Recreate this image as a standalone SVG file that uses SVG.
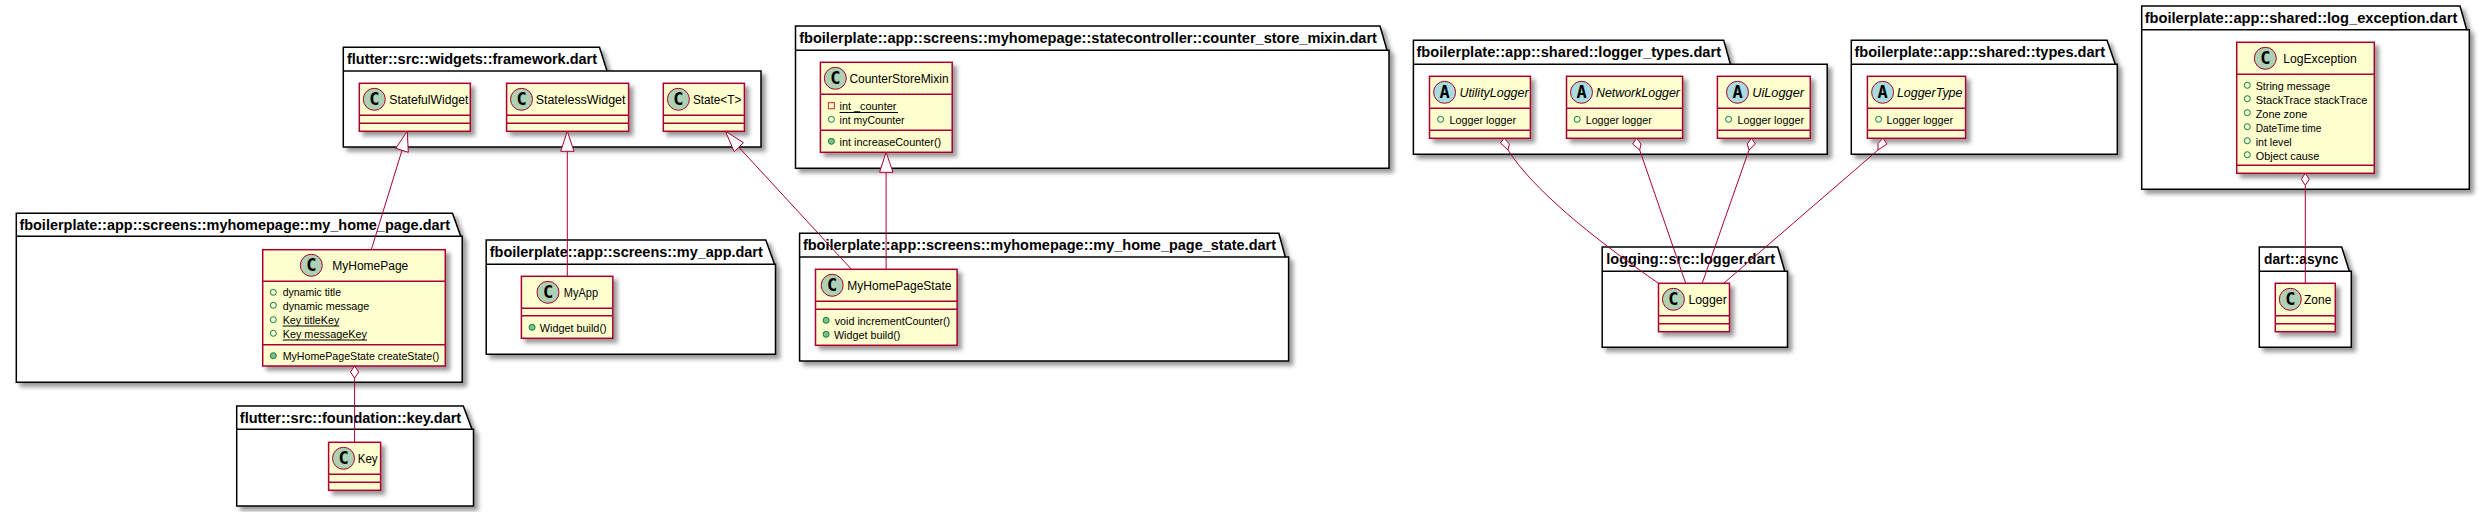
<svg xmlns="http://www.w3.org/2000/svg" width="2485" height="512" viewBox="0 0 2485 512">
<defs>
<filter id="sh" x="-20%" y="-20%" width="150%" height="150%"><feGaussianBlur result="b" stdDeviation="2"/><feColorMatrix type="matrix" values="0 0 0 0 0 0 0 0 0 0 0 0 0 0 0 0 0 0 .4 0"/><feOffset dx="4" dy="4"/><feBlend in="SourceGraphic" mode="normal"/></filter>
</defs>
<style>
text{font-family:"Liberation Sans",Arial,sans-serif;fill:#000}
.pk{fill:#fff;stroke:#000;stroke-width:1.5;filter:url(#sh)}
.pl{fill:none;stroke:#000;stroke-width:1.5}
.pt{font-weight:bold;font-size:14px}
.c{fill:#FEFECE;stroke:#A80036;stroke-width:1.5;filter:url(#sh)}
.d{stroke:#A80036;stroke-width:1.5}
.ci{fill:#ADD1B2;stroke:#A80036;stroke-width:1}
.ca{fill:#A9DCDF;stroke:#A80036;stroke-width:1}
.g{font-family:"DejaVu Sans Mono","Liberation Mono",monospace;font-weight:bold;font-size:17px;text-anchor:middle}
.n{font-size:12.5px}
.a{font-size:12.5px;font-style:italic}
.m{font-size:11px}
.fp{fill:none;stroke:#038048;stroke-width:1}
.mp{fill:#84BE84;stroke:#038048;stroke-width:1}
.pr{fill:none;stroke:#C82930;stroke-width:1}
.u{stroke:#000;stroke-width:1}
.e{fill:none;stroke:#A80036;stroke-width:1}
.t{fill:#fff;stroke:#A80036;stroke-width:1}
</style>

<g id="pkg-framework"><path class="pk" d="M343.3 47.3H599.5L607 71H761V147H343.3Z"/><path class="pl" d="M343.3 71H607"/><text class="pt" x="347" y="63.5" textLength="250" lengthAdjust="spacingAndGlyphs">flutter::src::widgets::framework.dart</text></g>
<g id="pkg-my-home-page"><path class="pk" d="M16.3 213.3H452.5L460.7 236.3H462.2V382.3H16.3Z"/><path class="pl" d="M16.3 236.3H460.7"/><text class="pt" x="19.4" y="229.5" textLength="430.6" lengthAdjust="spacingAndGlyphs">fboilerplate::app::screens::myhomepage::my_home_page.dart</text></g>
<g id="pkg-my-app"><path class="pk" d="M486.2 240H765.8L774.5 264.3H775.5V354.3H486.2Z"/><path class="pl" d="M486.2 264.3H774.5"/><text class="pt" x="489.8" y="256.5" textLength="273" lengthAdjust="spacingAndGlyphs">fboilerplate::app::screens::my_app.dart</text></g>
<g id="pkg-key"><path class="pk" d="M236.7 406H463.3L472 429.3H473.5V506H236.7Z"/><path class="pl" d="M236.7 429.3H472"/><text class="pt" x="239.8" y="422.5" textLength="221.4" lengthAdjust="spacingAndGlyphs">flutter::src::foundation::key.dart</text></g>
<g id="pkg-counter-store-mixin"><path class="pk" d="M795.5 26H1380L1387 50.3H1389V168.3H795.5Z"/><path class="pl" d="M795.5 50.3H1387"/><text class="pt" x="799.2" y="42.5" textLength="577.8" lengthAdjust="spacingAndGlyphs">fboilerplate::app::screens::myhomepage::statecontroller::counter_store_mixin.dart</text></g>
<g id="pkg-my-home-page-state"><path class="pk" d="M799.6 233.3H1278.8L1285.3 257H1288.6V361H799.6Z"/><path class="pl" d="M799.6 257H1285.3"/><text class="pt" x="802.9" y="249.5" textLength="473.1" lengthAdjust="spacingAndGlyphs">fboilerplate::app::screens::myhomepage::my_home_page_state.dart</text></g>
<g id="pkg-logger-types"><path class="pk" d="M1413.4 40.3H1723.7L1730.4 64.3H1827.2V154.3H1413.4Z"/><path class="pl" d="M1413.4 64.3H1730.4"/><text class="pt" x="1416.5" y="56.5" textLength="304.5" lengthAdjust="spacingAndGlyphs">fboilerplate::app::shared::logger_types.dart</text></g>
<g id="pkg-types"><path class="pk" d="M1851.3 40.3H2107L2115.3 64.3H2117.3V154.3H1851.3Z"/><path class="pl" d="M1851.3 64.3H2115.3"/><text class="pt" x="1854.5" y="56.5" textLength="250.5" lengthAdjust="spacingAndGlyphs">fboilerplate::app::shared::types.dart</text></g>
<g id="pkg-logger"><path class="pk" d="M1602.2 247H1777.7L1784.8 271.3H1787.5V347.3H1602.2Z"/><path class="pl" d="M1602.2 271.3H1784.8"/><text class="pt" x="1606.3" y="263.5" textLength="168.7" lengthAdjust="spacingAndGlyphs">logging::src::logger.dart</text></g>
<g id="pkg-log-exception"><path class="pk" d="M2141.7 6H2460L2466.7 29.7H2469.3V189.3H2141.7Z"/><path class="pl" d="M2141.7 29.7H2466.7"/><text class="pt" x="2144.7" y="22.5" textLength="312.6" lengthAdjust="spacingAndGlyphs">fboilerplate::app::shared::log_exception.dart</text></g>
<g id="pkg-async"><path class="pk" d="M2259.3 247H2341.7L2349.3 271.3H2351.3V347.3H2259.3Z"/><path class="pl" d="M2259.3 271.3H2349.3"/><text class="pt" x="2264" y="263.5" textLength="74.3" lengthAdjust="spacingAndGlyphs">dart::async</text></g>

<g id="StatefulWidget"><rect class="c" x="359.3" y="83.3" width="111" height="48"/><path class="d" d="M359.3 115.3H470.3M359.3 123.3H470.3"/><circle class="ci" cx="374.3" cy="99.3" r="11"/><text class="g" x="374.3" y="105">C</text><text class="n" x="389.3" y="103.5" textLength="79" lengthAdjust="spacingAndGlyphs">StatefulWidget</text></g>
<g id="StatelessWidget"><rect class="c" x="506.6" y="83.3" width="122" height="48"/><path class="d" d="M506.6 115.3H628.6M506.6 123.3H628.6"/><circle class="ci" cx="521.5" cy="99.3" r="11"/><text class="g" x="521.5" y="105">C</text><text class="n" x="535.7" y="103.5" textLength="89.8" lengthAdjust="spacingAndGlyphs">StatelessWidget</text></g>
<g id="State"><rect class="c" x="663.3" y="83.3" width="81.1" height="48"/><path class="d" d="M663.3 115.3H744.4M663.3 123.3H744.4"/><circle class="ci" cx="678.4" cy="99.3" r="11"/><text class="g" x="678.4" y="105">C</text><text class="n" x="692.9" y="103.5" textLength="48.4" lengthAdjust="spacingAndGlyphs">State&lt;T&gt;</text></g>

<g id="MyHomePage"><rect class="c" x="262.7" y="249.7" width="182.6" height="116.3"/><path class="d" d="M262.7 281.3H445.3M262.7 344.7H445.3"/><circle class="ci" cx="311.3" cy="265.3" r="11"/><text class="g" x="311.3" y="271">C</text><text class="n" x="332.3" y="270" textLength="76" lengthAdjust="spacingAndGlyphs">MyHomePage</text>
<circle class="fp" cx="273.3" cy="292.3" r="3"/><text class="m" x="282.7" y="296" textLength="58.3" lengthAdjust="spacingAndGlyphs">dynamic title</text>
<circle class="fp" cx="273.3" cy="305.3" r="3"/><text class="m" x="282.7" y="310" textLength="86.6" lengthAdjust="spacingAndGlyphs">dynamic message</text>
<circle class="fp" cx="273.3" cy="319.7" r="3"/><text class="m" x="282.7" y="324" textLength="56.6" lengthAdjust="spacingAndGlyphs">Key titleKey</text><path class="u" d="M282.7 326H339.3"/>
<circle class="fp" cx="273.3" cy="333.3" r="3"/><text class="m" x="282.7" y="338" textLength="84.3" lengthAdjust="spacingAndGlyphs">Key messageKey</text><path class="u" d="M282.7 340H367"/>
<circle class="mp" cx="273.3" cy="355.7" r="3"/><text class="m" x="282.7" y="360" textLength="156.6" lengthAdjust="spacingAndGlyphs">MyHomePageState createState()</text></g>

<g id="MyApp"><rect class="c" x="521.4" y="276.3" width="91.4" height="62"/><path class="d" d="M521.4 308.3H612.8M521.4 315.7H612.8"/><circle class="ci" cx="548" cy="292.3" r="11"/><text class="g" x="548" y="298">C</text><text class="n" x="563.8" y="297" textLength="34.2" lengthAdjust="spacingAndGlyphs">MyApp</text>
<circle class="mp" cx="532.1" cy="327.3" r="3"/><text class="m" x="539.8" y="332" textLength="66.8" lengthAdjust="spacingAndGlyphs">Widget build()</text></g>

<g id="Key"><rect class="c" x="328.6" y="442.3" width="52" height="48"/><path class="d" d="M328.6 474.3H380.6M328.6 482.3H380.6"/><circle class="ci" cx="343.5" cy="458.3" r="11"/><text class="g" x="343.5" y="464">C</text><text class="n" x="357.7" y="462.5" textLength="19.9" lengthAdjust="spacingAndGlyphs">Key</text></g>

<g id="CounterStoreMixin"><rect class="c" x="820.4" y="62.3" width="131.8" height="90"/><path class="d" d="M820.4 94.3H952.2M820.4 130.3H952.2"/><circle class="ci" cx="835.3" cy="78.3" r="11"/><text class="g" x="835.3" y="84">C</text><text class="n" x="849.4" y="82.5" textLength="99.2" lengthAdjust="spacingAndGlyphs">CounterStoreMixin</text>
<rect class="pr" x="828.4" y="102.7" width="6" height="6"/><text class="m" x="839.6" y="110" textLength="56.7" lengthAdjust="spacingAndGlyphs">int _counter</text><path class="u" d="M839.6 112.5H898"/>
<circle class="fp" cx="831.4" cy="119.3" r="3"/><text class="m" x="839.6" y="124" textLength="64.9" lengthAdjust="spacingAndGlyphs">int myCounter</text>
<circle class="mp" cx="831.4" cy="141.3" r="3"/><text class="m" x="839.6" y="146" textLength="101.6" lengthAdjust="spacingAndGlyphs">int increaseCounter()</text></g>

<g id="MyHomePageState"><rect class="c" x="815.5" y="269.3" width="141.6" height="76"/><path class="d" d="M815.5 301.3H957.1M815.5 309.3H957.1"/><circle class="ci" cx="832.2" cy="285.3" r="11"/><text class="g" x="832.2" y="291">C</text><text class="n" x="847.3" y="289.5" textLength="104.1" lengthAdjust="spacingAndGlyphs">MyHomePageState</text>
<circle class="mp" cx="826.1" cy="320.3" r="3"/><text class="m" x="834.7" y="325" textLength="115.5" lengthAdjust="spacingAndGlyphs">void incrementCounter()</text>
<circle class="mp" cx="826.1" cy="334.3" r="3"/><text class="m" x="833.9" y="339" textLength="66.5" lengthAdjust="spacingAndGlyphs">Widget build()</text></g>

<g id="UtilityLogger"><rect class="c" x="1429.5" y="76.3" width="100.9" height="62"/><path class="d" d="M1429.5 108.3H1530.4M1429.5 130.3H1530.4"/><circle class="ca" cx="1444.6" cy="92.3" r="11"/><text class="g" x="1444.6" y="98">A</text><text class="a" x="1459.4" y="96.5" textLength="69.2" lengthAdjust="spacingAndGlyphs">UtilityLogger</text>
<circle class="fp" cx="1440.6" cy="119.3" r="3"/><text class="m" x="1449.6" y="124" textLength="66.4" lengthAdjust="spacingAndGlyphs">Logger logger</text></g>
<g id="NetworkLogger"><rect class="c" x="1566.5" y="76.3" width="116.1" height="62"/><path class="d" d="M1566.5 108.3H1682.6M1566.5 130.3H1682.6"/><circle class="ca" cx="1581.5" cy="92.3" r="11"/><text class="g" x="1581.5" y="98">A</text><text class="a" x="1596" y="96.5" textLength="83.9" lengthAdjust="spacingAndGlyphs">NetworkLogger</text>
<circle class="fp" cx="1577.2" cy="119.3" r="3"/><text class="m" x="1585.7" y="124" textLength="66.1" lengthAdjust="spacingAndGlyphs">Logger logger</text></g>
<g id="UiLogger"><rect class="c" x="1717.4" y="76.3" width="92.9" height="62"/><path class="d" d="M1717.4 108.3H1810.3M1717.4 130.3H1810.3"/><circle class="ca" cx="1737.5" cy="92.3" r="11"/><text class="g" x="1737.5" y="98">A</text><text class="a" x="1752.2" y="96.5" textLength="51.8" lengthAdjust="spacingAndGlyphs">UiLogger</text>
<circle class="fp" cx="1728.6" cy="119.3" r="3"/><text class="m" x="1737.5" y="124" textLength="66.5" lengthAdjust="spacingAndGlyphs">Logger logger</text></g>
<g id="LoggerType"><rect class="c" x="1867.4" y="76.3" width="98.2" height="62"/><path class="d" d="M1867.4 108.3H1965.6M1867.4 130.3H1965.6"/><circle class="ca" cx="1882.6" cy="92.3" r="11"/><text class="g" x="1882.6" y="98">A</text><text class="a" x="1896.9" y="96.5" textLength="65.6" lengthAdjust="spacingAndGlyphs">LoggerType</text>
<circle class="fp" cx="1878.6" cy="119.3" r="3"/><text class="m" x="1886.6" y="124" textLength="66.5" lengthAdjust="spacingAndGlyphs">Logger logger</text></g>

<g id="Logger"><rect class="c" x="1658.5" y="283.3" width="71" height="48.4"/><path class="d" d="M1658.5 315.7H1729.5M1658.5 323.7H1729.5"/><circle class="ci" cx="1673.4" cy="299.3" r="11"/><text class="g" x="1673.4" y="305">C</text><text class="n" x="1688.4" y="303.5" textLength="38.4" lengthAdjust="spacingAndGlyphs">Logger</text></g>

<g id="LogException"><rect class="c" x="2236.7" y="42.3" width="137.6" height="131"/><path class="d" d="M2236.7 74.3H2374.3M2236.7 165.3H2374.3"/><circle class="ci" cx="2265.3" cy="58.3" r="11"/><text class="g" x="2265.3" y="64">C</text><text class="n" x="2283.3" y="62.5" textLength="73.4" lengthAdjust="spacingAndGlyphs">LogException</text>
<circle class="fp" cx="2247.3" cy="85.3" r="3"/><text class="m" x="2255.7" y="89.5" textLength="74.6" lengthAdjust="spacingAndGlyphs">String message</text>
<circle class="fp" cx="2247.3" cy="98.7" r="3"/><text class="m" x="2255.7" y="103.5" textLength="111.6" lengthAdjust="spacingAndGlyphs">StackTrace stackTrace</text>
<circle class="fp" cx="2247.3" cy="112.7" r="3"/><text class="m" x="2255.7" y="117.5" textLength="51.6" lengthAdjust="spacingAndGlyphs">Zone zone</text>
<circle class="fp" cx="2247.3" cy="126.7" r="3"/><text class="m" x="2255.7" y="131.5" textLength="65.6" lengthAdjust="spacingAndGlyphs">DateTime time</text>
<circle class="fp" cx="2247.3" cy="140.7" r="3"/><text class="m" x="2255.7" y="145.5" textLength="36" lengthAdjust="spacingAndGlyphs">int level</text>
<circle class="fp" cx="2247.3" cy="154.7" r="3"/><text class="m" x="2255.7" y="159.5" textLength="63.6" lengthAdjust="spacingAndGlyphs">Object cause</text></g>

<g id="Zone"><rect class="c" x="2275.3" y="283.3" width="60" height="48.4"/><path class="d" d="M2275.3 315.7H2335.3M2275.3 323.7H2335.3"/><circle class="ci" cx="2290.3" cy="299.3" r="11"/><text class="g" x="2290.3" y="305">C</text><text class="n" x="2304" y="303.5" textLength="27.3" lengthAdjust="spacingAndGlyphs">Zone</text></g>

<g id="connectors">
<path class="e" d="M402 150.3L371.3 249.7"/><polygon class="t" points="407.3,131.3 395.7,148.3 408.3,152.3"/>
<path class="e" d="M567.3 151.3V276.3"/><polygon class="t" points="567.3,131.3 560.7,151.3 574,151.3"/>
<path class="e" d="M738.8 147.2L851.4 269.3"/><polygon class="t" points="725.5,131.3 743.4,142.7 734.2,151.7"/>
<path class="e" d="M886.1 172.3V269.3"/><polygon class="t" points="886.1,152.3 879.6,172.3 893,172.3"/>
<path class="e" d="M354.6 378.3V442.3"/><polygon class="t" points="354.6,366 350.5,372 354.6,378.3 358.7,372"/>
<path class="e" d="M1508 150C1532 188 1590 236 1658.5 283.3"/><polygon class="t" points="1504,138.3 1500.5,143 1508,150 1509.4,144"/>
<path class="e" d="M1639.7 150L1685.7 283.3"/><polygon class="t" points="1636.6,138.3 1632.6,144 1639.7,150 1641,144"/>
<path class="e" d="M1749 150L1702.2 283.3"/><polygon class="t" points="1751.3,138.3 1747.3,144 1749,150 1755.4,144"/>
<path class="e" d="M1878 150L1723.7 283.3"/><polygon class="t" points="1883,138.3 1878,143.5 1878,150 1887,144"/>
<path class="e" d="M2305.3 185.3V283.3"/><polygon class="t" points="2305.3,173.3 2301.3,179.3 2305.3,185.3 2309.3,179.3"/>
</g>
</svg>
